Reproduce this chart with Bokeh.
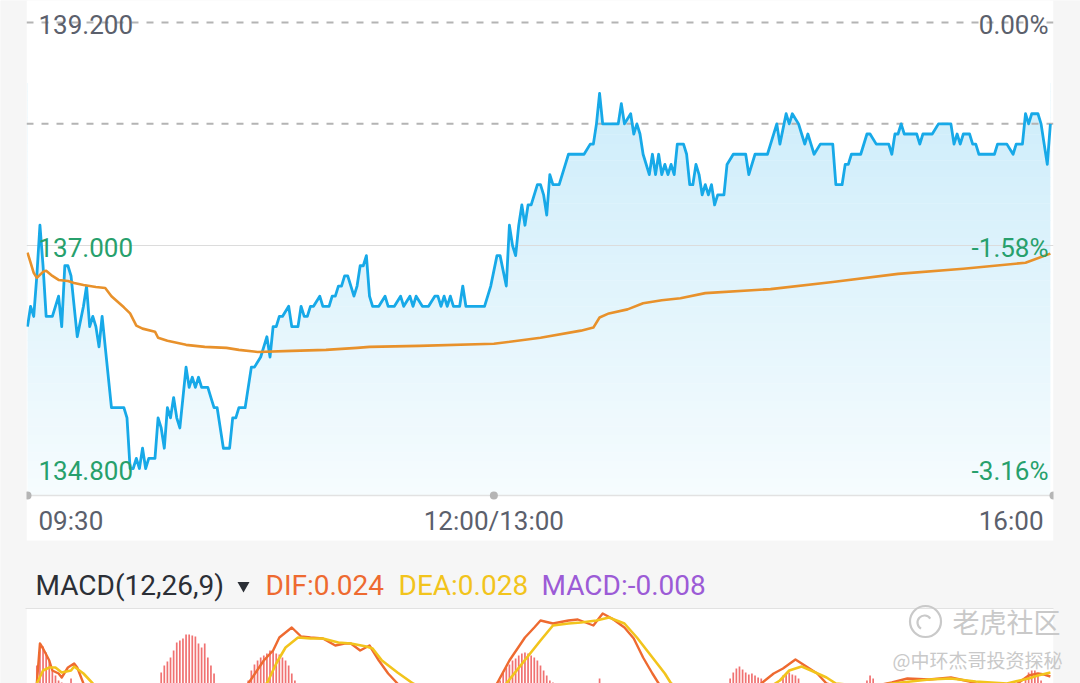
import numpy as np
from bokeh.plotting import figure
from bokeh.models import Range1d
from bokeh.core.properties import value
from bokeh.embed import file_html
from bokeh.resources import INLINE

# ---------------- data ----------------
prev_close = 139.2
price_ticks = [139.2, 137.0, 134.8]
time_ticks = [0, 150, 330]
time_labels = ["09:30", "12:00/13:00", "16:00"]

price_minutes = [0, 1, 2, 3, 4, 5, 6, 8, 10, 11, 12, 13, 14, 15, 16, 18, 19, 20, 21, 22, 23, 24, 25, 27, 29, 31, 32, 33, 34, 35,
                 36, 37, 38, 39, 41, 42, 43, 44, 45, 46, 47, 48, 49, 50, 51, 52, 53, 54, 55, 56, 58, 59, 60, 61, 62, 63, 65, 66, 67, 68,
                 70, 71, 72, 73, 75, 76, 77, 78, 79, 80, 81, 82, 84, 85, 87, 88, 89, 90, 91, 92, 94, 95, 97, 98, 99, 100, 101, 102, 103, 105,
                 106, 107, 108, 109, 110, 111, 113, 115, 116, 118, 120, 121, 123, 124, 125, 127, 129, 131, 132, 133, 134, 135, 136, 137, 139, 140, 141, 147, 149, 151,
                 152, 154, 155, 156, 157, 158, 159, 160, 161, 162, 164, 165, 166, 167, 168, 169, 171, 173, 174, 179, 181, 182, 183, 184, 185, 190, 191, 192, 194, 195,
                 196, 197, 198, 200, 201, 202, 203, 204, 205, 206, 207, 208, 209, 211, 212, 213, 214, 215, 216, 217, 218, 219, 220, 221, 222, 224, 225, 227, 231, 232,
                 234, 238, 239, 241, 242, 244, 245, 246, 248, 249, 250, 251, 252, 253, 255, 259, 260, 262, 263, 264, 265, 268, 270, 271, 273, 277, 278, 279, 280, 281,
                 282, 286, 287, 288, 291, 293, 297, 298, 299, 300, 301, 303, 304, 305, 306, 311, 312, 315, 317, 318, 320, 321, 322, 323, 325, 326, 327, 328, 329]
price_values = [136.2, 136.4, 136.3, 136.7, 137.2, 136.8, 136.3, 136.3, 136.5, 136.2, 136.8, 136.8, 136.7, 136.4, 136.1, 136.4, 136.6, 136.2, 136.3, 136.2, 136.0, 136.3, 136.0, 135.4, 135.4, 135.4, 135.3, 134.8, 134.8, 134.9,
                134.8, 135.0, 134.8, 134.9, 134.9, 135.3, 135.2, 135.0, 135.4, 135.3, 135.5, 135.3, 135.2, 135.5, 135.8, 135.6, 135.7, 135.6, 135.7, 135.6, 135.6, 135.5, 135.4, 135.4, 135.2, 135.0, 135.0, 135.3, 135.3, 135.4,
                135.4, 135.6, 135.8, 135.8, 135.9, 136.0, 136.1, 135.9, 136.2, 136.2, 136.3, 136.3, 136.4, 136.2, 136.2, 136.4, 136.3, 136.3, 136.4, 136.4, 136.5, 136.4, 136.4, 136.5, 136.5, 136.6, 136.6, 136.7, 136.7, 136.5,
                136.6, 136.8, 136.8, 136.9, 136.5, 136.4, 136.4, 136.5, 136.4, 136.4, 136.5, 136.4, 136.5, 136.4, 136.5, 136.4, 136.4, 136.5, 136.5, 136.4, 136.5, 136.4, 136.5, 136.4, 136.4, 136.6, 136.4, 136.4, 136.6, 136.9,
                136.9, 136.6, 137.2, 137.0, 136.9, 137.2, 137.4, 137.2, 137.4, 137.4, 137.6, 137.6, 137.5, 137.3, 137.7, 137.6, 137.6, 137.8, 137.9, 137.9, 138.0, 138.0, 138.2, 138.5, 138.2, 138.2, 138.4, 138.2, 138.3, 138.1,
                138.2, 138.1, 137.9, 137.7, 137.9, 137.7, 137.9, 137.7, 137.8, 137.7, 137.8, 137.7, 138.0, 138.0, 137.9, 137.6, 137.6, 137.8, 137.7, 137.5, 137.6, 137.5, 137.6, 137.4, 137.5, 137.5, 137.8, 137.9, 137.9, 137.7,
                137.9, 137.9, 138.0, 138.2, 138.0, 138.3, 138.2, 138.3, 138.2, 138.1, 138.0, 138.1, 138.0, 137.9, 138.0, 138.0, 137.6, 137.6, 137.8, 137.8, 137.9, 137.9, 138.1, 138.1, 138.0, 138.0, 137.9, 138.1, 138.1, 138.2,
                138.1, 138.1, 138.0, 138.1, 138.1, 138.2, 138.2, 138.0, 138.1, 138.0, 138.1, 138.1, 138.0, 138.0, 137.9, 137.9, 138.0, 138.0, 137.9, 138.0, 138.0, 138.3, 138.2, 138.3, 138.3, 138.2, 138.0, 137.8, 138.2]

avg_minutes = [0, 2, 3, 5, 6, 8, 10, 13, 15, 18, 22, 25, 27, 31, 33, 35, 37, 41, 42, 45, 51, 57, 64, 68, 74, 85, 96, 106, 110, 126,
               150, 165, 178, 182, 184, 187, 193, 198, 204, 210, 218, 239, 259, 280, 301, 321, 329]
avg_values = [136.93, 136.73, 136.68, 136.74, 136.75, 136.70, 136.66, 136.65, 136.63, 136.61, 136.59, 136.58, 136.50, 136.39, 136.33, 136.21, 136.18, 136.15, 136.09, 136.06,
              136.02, 136.00, 135.99, 135.97, 135.95, 135.96, 135.97, 135.99, 136.00, 136.01,
              136.03, 136.09, 136.16, 136.19, 136.29, 136.33, 136.37, 136.43, 136.46, 136.48, 136.53, 136.57, 136.64, 136.72, 136.77, 136.83, 136.92]

dif_minutes = [0, 3, 4, 5, 7, 8, 10, 11, 13, 15, 16, 18, 22, 40, 60, 71, 76, 79, 81, 85, 88, 91, 95, 99, 102, 104, 107, 110, 113, 116,
               119, 125, 140, 151, 155, 160, 163, 165, 169, 174, 177, 182, 185, 188, 192, 195, 198, 201, 203, 215, 230, 236, 240, 243, 247, 250, 254, 257, 265, 278,
               283, 290, 297, 303, 308, 318, 322, 325, 327, 329]
dif_values = [0.000, 0.017, 0.057, 0.052, 0.040, 0.030, 0.027, 0.023, 0.033, 0.037, 0.033, 0.017, -0.010, -0.020, -0.005, 0.017, 0.040, 0.050, 0.063, 0.073,
              0.064, 0.063, 0.062, 0.055, 0.057, 0.057, 0.050, 0.055, 0.040, 0.027, 0.017, -0.005, -0.015, 0.017, 0.040, 0.063, 0.073, 0.080, 0.077, 0.080,
              0.081, 0.075, 0.087, 0.082, 0.073, 0.062, 0.043, 0.027, 0.017, -0.010, -0.005, 0.017, 0.027, 0.032, 0.041, 0.035, 0.027, 0.017, 0.010, 0.018,
              0.022, 0.021, 0.023, 0.019, 0.014, 0.016, 0.025, 0.027, 0.026, 0.024]

dea_minutes = [0, 3, 5, 7, 9, 11, 14, 15, 18, 21, 25, 50, 77, 80, 83, 87, 91, 95, 100, 104, 109, 111, 114, 119, 124, 130, 145, 154, 165, 169,
               174, 178, 183, 187, 192, 196, 200, 205, 207, 215, 238, 242, 245, 249, 252, 257, 260, 270, 281, 290, 297, 305, 315, 322, 325, 329]
dea_values = [0.000, 0.017, 0.030, 0.033, 0.033, 0.028, 0.030, 0.034, 0.027, 0.017, 0.005, -0.010, 0.017, 0.037, 0.053, 0.063, 0.062, 0.062, 0.058, 0.057,
              0.054, 0.052, 0.040, 0.028, 0.017, 0.008, -0.005, 0.017, 0.060, 0.075, 0.077, 0.078, 0.080, 0.083, 0.077, 0.063, 0.047, 0.027, 0.017, 0.005,
              0.012, 0.020, 0.030, 0.034, 0.030, 0.023, 0.017, 0.014, 0.018, 0.021, 0.022, 0.019, 0.017, 0.022, 0.025, 0.028]

hist_minutes = [3, 4, 5, 6, 7, 8, 9, 10, 11, 14,
                43, 44, 45, 46, 47, 48, 49, 50, 51, 52, 53, 54, 55, 56, 57, 58, 59, 60,
                71, 72, 73, 74, 75, 76, 77, 78, 79, 80, 81, 82, 83, 84, 85, 86,
                152, 153, 154, 155, 156, 157, 158, 159, 160, 161, 162, 163, 164, 165, 166, 167, 168, 169,
                184,
                226, 227, 228, 229, 230, 231, 232, 233, 234, 235, 236,
                243, 244, 245, 246, 247, 248,
                270, 271, 272,
                321, 322, 323, 324, 325, 326, 329]
hist_values = [0.035, 0.057, 0.054, 0.048, 0.040, 0.030, 0.025, 0.020, 0.018, 0.022,
               0.028, 0.035, 0.039, 0.043, 0.050, 0.058, 0.060, 0.062, 0.066, 0.066, 0.065, 0.064, 0.057, 0.053, 0.057, 0.043, 0.035, 0.027,
               0.020, 0.030, 0.036, 0.040, 0.043, 0.045, 0.047, 0.050, 0.050, 0.047, 0.046, 0.043, 0.040, 0.035, 0.027, 0.020,
               0.020, 0.028, 0.033, 0.036, 0.040, 0.042, 0.045, 0.047, 0.048, 0.047, 0.045, 0.043, 0.040, 0.035, 0.030, 0.025, 0.020, 0.018,
               0.022,
               0.022, 0.028, 0.032, 0.034, 0.031, 0.028, 0.026, 0.027, 0.025, 0.023, 0.022,
               0.025, 0.027, 0.028, 0.026, 0.025, 0.022,
               0.020, 0.025, 0.022,
               0.022, 0.028, 0.030, 0.030, 0.027, 0.020, -0.008]

# ---------------- layout (page pixel anchors) ----------------
PAGE_L, PAGE_T, PAGE_R, PAGE_B = 0, 0, 1080, 683
PANEL_L, PANEL_R = 26, 1053
X0_PX, X1_PX = 27, 1053             # minute 0 / minute 330
Y_TOP_PX, Y_BOT_PX = 22, 468        # price_ticks[0] / price_ticks[-1]
AXIS_PX = 495
PANEL_BOTTOM_PX = 540
MACD_LINE_PX = 608
MACD_ZERO_PX, MACD_PX_PER_UNIT = 700, 1000.0

GRAY_BG = "#f6f6f6"
BLUE = "#17a9e8"
ORANGE = "#e8912b"
GREEN = "#27a06c"
TEXT_GRAY = "#5b606c"
DIF_C = "#ee6a30"
DEA_C = "#f2c41c"
MACD_C = "#9c5bd6"
BAR_C = "#f07272"

ppm = (X1_PX - X0_PX) / (time_ticks[-1] - time_ticks[0])
x_start = time_ticks[0] + (PAGE_L - X0_PX) / ppm
x_end = time_ticks[0] + (PAGE_R - X0_PX) / ppm
ppu = (Y_BOT_PX - Y_TOP_PX) / (price_ticks[0] - price_ticks[-1])
y_top_val = price_ticks[0] + (Y_TOP_PX - PAGE_T) / ppu
y_bot_val = price_ticks[-1] - (PAGE_B - Y_BOT_PX) / ppu
price_floor = price_ticks[-1] - (AXIS_PX - Y_BOT_PX) / ppu

p = figure(width=PAGE_R - PAGE_L, height=PAGE_B - PAGE_T,
           x_range=Range1d(x_start, x_end), y_range=Range1d(y_bot_val, y_top_val),
           output_backend="svg", toolbar_location=None, min_border=0,
           x_axis_location=None, y_axis_location=None,
           background_fill_color=GRAY_BG, border_fill_color=GRAY_BG, outline_line_color=None)
p.grid.visible = False
p.extra_x_ranges = {"px": Range1d(PAGE_L, PAGE_R)}
p.extra_y_ranges = {"py": Range1d(PAGE_B, PAGE_T),
                    "macd": Range1d((MACD_ZERO_PX - PAGE_B) / MACD_PX_PER_UNIT,
                                    (MACD_ZERO_PX - PAGE_T) / MACD_PX_PER_UNIT)}

# white panels
p.quad(left=[PANEL_L, PANEL_L], right=[PANEL_R, PANEL_R], top=[PAGE_T, MACD_LINE_PX],
       bottom=[PANEL_BOTTOM_PX, PAGE_B], x_range_name="px", y_range_name="py",
       fill_color="white", line_color=None)

# gradient area under the price line
n_bands = 48
grad_top = max(price_values) + 0.1
edges = np.linspace(price_floor, grad_top, n_bands + 1)
c_bot = np.array([246, 252, 254])
c_top = np.array([204, 236, 250])
cols = []
for i in range(n_bands):
    t = (0.5 * (edges[i] + edges[i + 1]) - price_floor) / (grad_top - price_floor)
    c = (c_bot + t * (c_top - c_bot)).round().astype(int)
    cols.append("#%02x%02x%02x" % tuple(c))
p.quad(left=price_minutes[0], right=price_minutes[-1], bottom=edges[:-1], top=edges[1:] + 0.004,
       fill_color=cols, line_color=None)
# mask above the line
p.varea(x=price_minutes, y1=price_values, y2=y_top_val, fill_color="white")

# grid line at middle tick and dashed lines
p.segment(x0=PANEL_L, x1=PANEL_R, y0=price_ticks[1], y1=price_ticks[1], x_range_name="px",
          line_color="#dcdcdc", line_width=1)
p.segment(x0=[PANEL_L, PANEL_L], x1=[PANEL_R, PANEL_R], y0=[prev_close, price_values[-1]],
          y1=[prev_close, price_values[-1]], x_range_name="px",
          line_color="#b4b4b4", line_width=2, line_dash="7 8")

# lines
p.line(price_minutes, price_values, line_color=BLUE, line_width=2.8, line_join="round")
p.line(avg_minutes, avg_values, line_color=ORANGE, line_width=2.6, line_join="round")

# bottom axis line and dots
p.segment(x0=PANEL_L, x1=PANEL_R, y0=AXIS_PX, y1=AXIS_PX, x_range_name="px", y_range_name="py",
          line_color="#e2e2e2", line_width=1.5)
p.scatter(x=time_ticks, y=[AXIS_PX] * 3, y_range_name="py", size=8,
          fill_color="#b5b5b5", line_color=None)

# MACD
p.vbar(x=hist_minutes, top=hist_values, bottom=0, width=0.55, y_range_name="macd",
       fill_color=BAR_C, line_color=None)
p.line(dif_minutes, dif_values, y_range_name="macd", line_color=DIF_C, line_width=2.4, line_join="round")
p.line(dea_minutes, dea_values, y_range_name="macd", line_color=DEA_C, line_width=2.6, line_join="round")

# side strips (gray)
p.quad(left=[PAGE_L, PANEL_R], right=[PANEL_L, PAGE_R], top=[PAGE_T, PAGE_T], bottom=[PAGE_B, PAGE_B],
       x_range_name="px", y_range_name="py", fill_color=GRAY_BG, line_color=None)
# divider line
p.segment(x0=PANEL_L - 1, x1=PANEL_R, y0=MACD_LINE_PX, y1=MACD_LINE_PX, x_range_name="px", y_range_name="py",
          line_color="#e2e2e2", line_width=1)

FONT = value("Roboto")
LBL = "26px"
# price labels
lab_cols = [TEXT_GRAY if v >= prev_close else GREEN for v in price_ticks]
p.text(x=[time_ticks[0]] * 3, y=price_ticks, text=[f"{v:.3f}" for v in price_ticks],
       x_offset=11, y_offset=2, text_align="left", text_baseline="middle",
       text_font=FONT, text_font_size=LBL, text_color=lab_cols)
p.text(x=[time_ticks[-1]] * 3, y=price_ticks,
       text=[f"{(v - prev_close) / prev_close * 100:.2f}%" for v in price_ticks],
       x_offset=-5, y_offset=2, text_align="right", text_baseline="middle",
       text_font=FONT, text_font_size=LBL, text_color=lab_cols)

# time labels
p.text(x=[time_ticks[0]], y=[520], text=[time_labels[0]], y_range_name="py", x_offset=11,
       text_align="left", text_baseline="middle", text_font=FONT, text_font_size=LBL, text_color=TEXT_GRAY)
p.text(x=[time_ticks[1]], y=[520], text=[time_labels[1]], y_range_name="py",
       text_align="center", text_baseline="middle", text_font=FONT, text_font_size=LBL, text_color=TEXT_GRAY)
p.text(x=[time_ticks[2]], y=[520], text=[time_labels[2]], y_range_name="py", x_offset=-10,
       text_align="right", text_baseline="middle", text_font=FONT, text_font_size=LBL, text_color=TEXT_GRAY)

# MACD header
hdr_y = 585
HDR = "28px"
p.text(x=[35], y=[hdr_y], text=["MACD(12,26,9)"], x_range_name="px", y_range_name="py",
       text_align="left", text_baseline="middle", text_font=FONT, text_font_size=HDR, text_color="#2b2f36")
p.scatter(x=[243], y=[hdr_y], x_range_name="px", y_range_name="py", marker="inverted_triangle",
          size=12, fill_color="#2b2f36", line_color=None)
p.text(x=[265], y=[hdr_y], text=[f"DIF:{dif_values[-1]:.3f}"], x_range_name="px", y_range_name="py",
       text_align="left", text_baseline="middle", text_font=FONT, text_font_size=HDR, text_color=DIF_C)
p.text(x=[398], y=[hdr_y], text=[f"DEA:{dea_values[-1]:.3f}"], x_range_name="px", y_range_name="py",
       text_align="left", text_baseline="middle", text_font=FONT, text_font_size=HDR, text_color=DEA_C)
p.text(x=[541], y=[hdr_y], text=[f"MACD:{hist_values[-1]:.3f}"], x_range_name="px", y_range_name="py",
       text_align="left", text_baseline="middle", text_font=FONT, text_font_size=HDR, text_color=MACD_C)

# watermark
WM = "#c9c9c9"
p.scatter(x=[925], y=[621], x_range_name="px", y_range_name="py", marker="circle", size=31,
          fill_color=None, line_color=WM, line_width=2.2)
p.arc(x=[924], y=[622], radius=7, start_angle=0.6, end_angle=4.2, x_range_name="px", y_range_name="py",
      line_color=WM, line_width=2.2)
p.text(x=[952], y=[621], text=["老虎社区"], x_range_name="px", y_range_name="py",
       text_align="left", text_baseline="middle", text_font=value("Noto Sans CJK SC"),
       text_font_size="27px", text_color=WM)
p.text(x=[892], y=[659], text=["@中环杰哥投资探秘"], x_range_name="px", y_range_name="py",
       text_align="left", text_baseline="middle", text_font=value("Noto Sans CJK SC"),
       text_font_size="19px", text_color=WM)

html = file_html(p, INLINE, title="chart")
html = html.replace("<body>", '<body style="background-color:%s;">' % GRAY_BG, 1)
open("out.html", "w").write(html)
